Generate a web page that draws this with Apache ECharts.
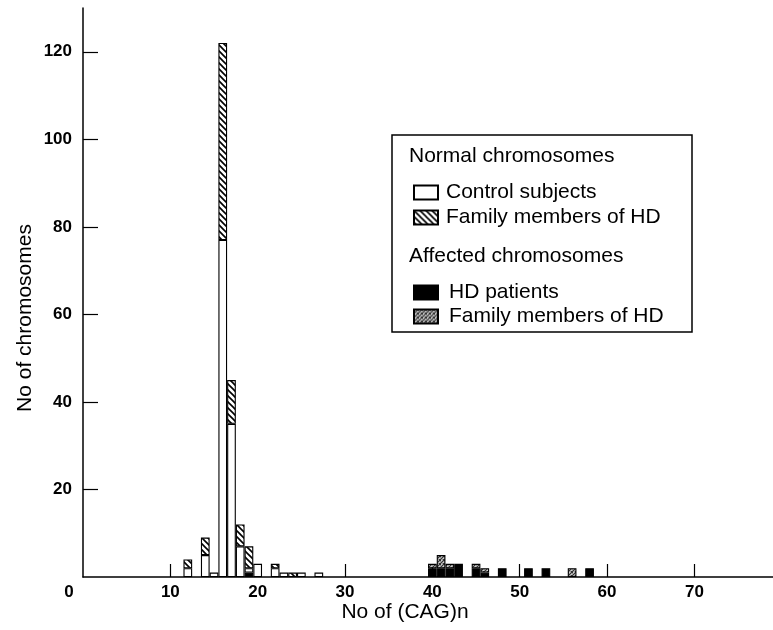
<!DOCTYPE html>
<html><head><meta charset="utf-8">
<script src="https://cdn.jsdelivr.net/npm/echarts@6/dist/echarts.min.js"></script>
<style>html,body{margin:0;padding:0;background:#fff}#c{width:773px;height:630px}</style>
</head><body><div id="c"></div>
<script>
// Number of CAG repeats (x) and number of chromosomes per group (stacked)
const cagRepeats       = [12, 14, 15, 16, 17, 18, 19, 20, 22, 23, 24, 25, 27, 40, 41, 42, 43, 45, 46, 48, 51, 53, 56, 58];
const hdPatients       = [ 0,  0,  0,  0,  0,  0,  1,  0,  0,  0,  0,  0,  0,  2,  2,  2,  3,  2,  1,  2,  2,  2,  0,  2];
const controlSubjects  = [ 2,  5,  1, 77, 35,  7,  1,  3,  2,  1,  0,  1,  1,  0,  0,  0,  0,  0,  0,  0,  0,  0,  0,  0];
const familyNormal     = [ 2,  4,  0, 45, 10,  5,  5,  0,  1,  0,  1,  0,  0,  0,  0,  0,  0,  0,  0,  0,  0,  0,  0,  0];
const familyAffected   = [ 0,  0,  0,  0,  0,  0,  0,  0,  0,  0,  0,  0,  0,  1,  3,  1,  0,  1,  1,  0,  0,  0,  2,  0];
const xTicks = [10, 20, 30, 40, 50, 60, 70];
const yTicks = [20, 40, 60, 80, 100, 120];
const legendLabels = {
  control: 'Control subjects',
  famNormal: 'Family members of HD',
  hd: 'HD patients',
  famAffected: 'Family members of HD'
};

function hatchCanvas() {
  const c = document.createElement('canvas'); c.width = 6; c.height = 6;
  const g = c.getContext('2d');
  g.fillStyle = '#fff'; g.fillRect(0, 0, 6, 6);
  g.strokeStyle = '#000'; g.lineWidth = 1.6;
  g.beginPath();
  g.moveTo(-1, -1); g.lineTo(7, 7);
  g.moveTo(-1, 5); g.lineTo(1, 7);
  g.moveTo(5, -1); g.lineTo(7, 1);
  g.stroke();
  return c;
}
function stippleCanvas() {
  const c = document.createElement('canvas'); c.width = 4; c.height = 4;
  const g = c.getContext('2d');
  g.fillStyle = '#9a9a9a'; g.fillRect(0, 0, 4, 4);
  g.fillStyle = '#333';
  [[0,0],[2,1],[1,2],[3,3],[3,0],[0,3]].forEach(p => g.fillRect(p[0], p[1], 1, 1));
  g.fillStyle = '#d0d0d0';
  [[1,0],[3,2]].forEach(p => g.fillRect(p[0], p[1], 1, 1));
  return c;
}

const chart = echarts.init(document.getElementById('c'), null, {renderer: 'canvas'});
const FONT = 'Liberation Sans, Arial, Helvetica, sans-serif';

// data items are [count, cagRepeats] so the stacked (first numeric) dimension is the count
function mk(name, arr, color) {
  return {
    name, type: 'bar', stack: 'all', barWidth: 8.7,
    encode: {x: 1, y: 0},
    data: cagRepeats.map((x, i) => arr[i] ? {value: [arr[i], x]} : {value: [0, x], itemStyle: {borderWidth: 0, opacity: 0}}),
    itemStyle: {color, borderColor: '#000', borderWidth: 1.1},
    emphasis: {disabled: true},
    animation: false
  };
}

const legendText = {fontSize: 21, fontFamily: FONT, color: '#000'};

chart.setOption({
  backgroundColor: '#fff',
  animation: false,
  grid: {left: 83, right: 0, top: 8, bottom: 53, containLabel: false},
  xAxis: {
    type: 'value', min: 0, max: 79, interval: 10,
    splitLine: {show: false},
    axisLine: {lineStyle: {color: '#000', width: 1.5}},
    axisTick: {inside: true, length: 13, customValues: xTicks, lineStyle: {color: '#000', width: 1.2}},
    axisLabel: {customValues: xTicks, margin: 7, fontSize: 17, fontWeight: 'bold', fontFamily: FONT, color: '#000',
      formatter: v => (v > 0 && v % 10 === 0) ? String(v) : ''}
  },
  yAxis: {
    type: 'value', min: 0, max: 130, interval: 20,
    splitLine: {show: false},
    axisLine: {show: true, lineStyle: {color: '#000', width: 1.5}},
    axisTick: {show: true, inside: true, length: 15, customValues: yTicks, lineStyle: {color: '#000', width: 1.2}},
    axisLabel: {customValues: yTicks, margin: 11, fontSize: 17, fontWeight: 'bold', fontFamily: FONT, color: '#000',
      formatter: v => (v > 0 && v % 20 === 0) ? String(v) : ''}
  },
  legend: [
    {
      data: ['control', 'famNormal'], orient: 'vertical', left: 408, top: 177, icon: 'rect',
      itemWidth: 24, itemHeight: 14, itemGap: 4, selectedMode: false,
      formatter: n => legendLabels[n], textStyle: Object.assign({padding: [0, 0, 0, 3]}, legendText)
    },
    {
      data: ['hd', 'famAffected'], orient: 'vertical', left: 408, top: 277, icon: 'rect',
      itemWidth: 24, itemHeight: 14, itemGap: 3, selectedMode: false,
      formatter: n => legendLabels[n], textStyle: Object.assign({padding: [0, 0, 0, 6]}, legendText)
    }
  ],
  graphic: [
    {type: 'rect', shape: {x: 392, y: 135, width: 300, height: 197}, style: {fill: 'none', stroke: '#000', lineWidth: 1.5}, silent: true},
    {type: 'text', x: 409, y: 156, style: {text: 'Normal chromosomes', font: '21px ' + FONT, fill: '#000', verticalAlign: 'middle'}},
    {type: 'text', x: 409, y: 256, style: {text: 'Affected chromosomes', font: '21px ' + FONT, fill: '#000', verticalAlign: 'middle'}},
    {type: 'text', x: 405, y: 612, style: {text: 'No of (CAG)n', font: '21px ' + FONT, fill: '#000', align: 'center', verticalAlign: 'middle'}},
    {type: 'text', x: 25, y: 318, rotation: Math.PI / 2, style: {text: 'No of chromosomes', font: '21px ' + FONT, fill: '#000', align: 'center', verticalAlign: 'middle'}},
    {type: 'text', x: 69, y: 592, style: {text: '0', font: 'bold 17px ' + FONT, fill: '#000', align: 'center', verticalAlign: 'middle'}}
  ],
  series: [
    mk('hd', hdPatients, '#000'),
    mk('control', controlSubjects, '#fff'),
    mk('famNormal', familyNormal, {image: hatchCanvas(), repeat: 'repeat'}),
    mk('famAffected', familyAffected, {image: stippleCanvas(), repeat: 'repeat'})
  ]
});
</script>
</body></html>
